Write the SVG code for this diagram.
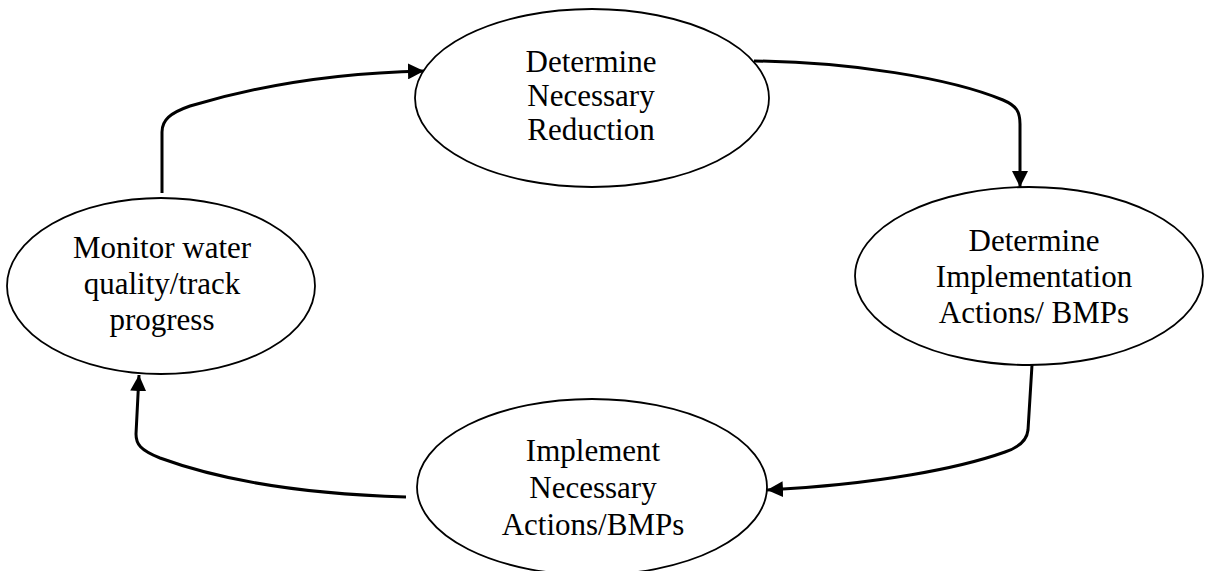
<svg xmlns="http://www.w3.org/2000/svg" width="1208" height="571" viewBox="0 0 1208 571">
<style>
.node{fill:#fff;stroke:#000;stroke-width:1.8}
.lbl{font-family:"Liberation Serif","Times New Roman",serif;font-size:31px;fill:#000;text-anchor:middle}
.conn{fill:none;stroke:#000;stroke-width:3;stroke-linejoin:round}
</style>
<defs>
<marker id="arrow" markerUnits="userSpaceOnUse" viewBox="0 0 16 16" markerWidth="16" markerHeight="16" refX="16" refY="8" orient="auto">
<path d="M0,0 L16,8 L0,16 Z" fill="#000"/>
</marker>
</defs>
<rect width="1208" height="571" fill="#fff"/>
<g id="connectors">
<path class="conn" marker-end="url(#arrow)" d="M162,193 L162,132 C162,120 170,113 190,106 C250,88 330,73 424,71"/>
<path class="conn" marker-end="url(#arrow)" d="M754,61 C850,62 950,78 1003,100 C1017,106 1020,112 1020,124 L1020,187"/>
<path class="conn" marker-end="url(#arrow)" d="M1032,365 L1028,430 C1027,440 1020,447 1005,452 C960,468 880,484 767,490"/>
<path class="conn" marker-end="url(#arrow)" d="M406,497 C300,494 220,480 160,458 C140,450 136,444 136,434 L139,375"/>
</g>
<g id="node-reduction">
<ellipse class="node" cx="592" cy="98" rx="177" ry="89"/>
<text class="lbl" x="591" y="72">Determine</text>
<text class="lbl" x="591" y="106">Necessary</text>
<text class="lbl" x="591" y="140">Reduction</text>
</g>
<g id="node-actions">
<ellipse class="node" cx="1029" cy="276" rx="174" ry="89"/>
<text class="lbl" x="1034" y="251">Determine</text>
<text class="lbl" x="1034" y="287">Implementation</text>
<text class="lbl" x="1034" y="323">Actions/ BMPs</text>
</g>
<g id="node-implement">
<ellipse class="node" cx="592" cy="487" rx="175" ry="88"/>
<text class="lbl" x="593" y="461">Implement</text>
<text class="lbl" x="593" y="498">Necessary</text>
<text class="lbl" x="593" y="535">Actions/BMPs</text>
</g>
<g id="node-monitor">
<ellipse class="node" cx="161" cy="286" rx="154" ry="88"/>
<text class="lbl" x="162" y="258">Monitor water</text>
<text class="lbl" x="162" y="294">quality/track</text>
<text class="lbl" x="162" y="330">progress</text>
</g>
</svg>
